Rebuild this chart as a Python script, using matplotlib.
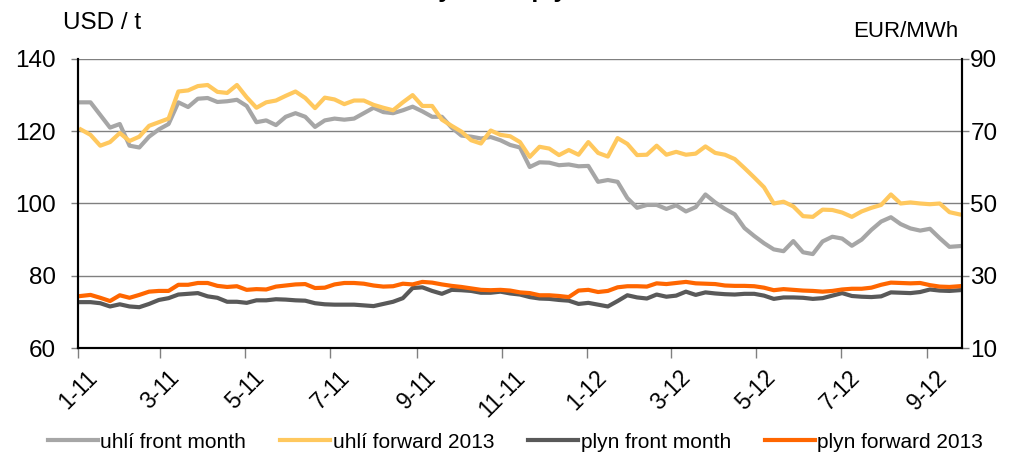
import matplotlib
matplotlib.use('Agg')
import matplotlib.pyplot as plt
import matplotlib.dates as mdates
from matplotlib.ticker import FuncFormatter
import pandas as pd

plt.rcParams['font.family'] = ['Liberation Sans', 'DejaVu Sans']

# weekly observations, Jan 2011 - Sep 2012
dates = pd.date_range('2011-01-03', periods=91, freq='7D')

# coal, USD/t (left axis)
uhli_front = [128, 128, 124.5, 121, 122, 116, 115.5, 118.5, 120.5, 122,
              128, 126.7, 129, 129.2, 128.1, 128.3, 128.7, 127, 122.5, 123,
              121.7, 124, 125, 124, 121.2, 123, 123.5, 123.2, 123.5, 125,
              126.5, 125.3, 125, 125.8, 126.8, 125.5, 124, 124, 121, 118.8,
              118.5, 118, 118.4, 117.5, 116.2, 115.5, 110.1, 111.4, 111.3, 110.6,
              110.8, 110.3, 110.4, 106, 106.5, 106, 101.5, 98.8, 99.6, 99.6,
              98.5, 99.5, 97.8, 99, 102.5, 100.3, 98.5, 97, 93.2, 91,
              89, 87.3, 86.8, 89.6, 86.5, 86, 89.5, 90.8, 90.3, 88.3,
              90, 92.7, 95, 96.2, 94.3, 93.1, 92.5, 93, 90.4, 88,
              88.2]
uhli_fwd = [120.5, 119, 116, 117, 119.5, 117.3, 118.5, 121.5, 122.5, 123.5,
            131, 131.3, 132.5, 132.8, 130.9, 130.6, 132.8, 129.4, 126.5, 128,
            128.5, 129.8, 131, 129.2, 126.4, 129.3, 128.8, 127.5, 128.5, 128.5,
            127.3, 126.5, 125.8, 128, 130, 127, 127, 123.2, 121.5, 119.9,
            117.5, 116.6, 120.2, 119, 118.6, 117, 112.9, 115.7, 115.2, 113.4,
            114.8, 113.5, 117, 114, 113, 118.1, 116.5, 113.4, 113.5, 116,
            113.5, 114.3, 113.5, 113.8, 115.8, 114, 113.5, 112.3, 109.8, 107.2,
            104.5, 100, 100.5, 99.2, 96.5, 96.3, 98.3, 98.2, 97.5, 96.3,
            97.8, 98.8, 99.6, 102.5, 100, 100.3, 100, 99.8, 100, 97.6,
            97]

# gas, EUR/MWh (right axis)
plyn_front = [22.7, 22.7, 22.4, 21.5, 22.1, 21.5, 21.3, 22.2, 23.3, 23.8,
              24.8, 25.0, 25.2, 24.3, 23.9, 22.8, 22.8, 22.5, 23.2, 23.2,
              23.5, 23.4, 23.2, 23.1, 22.4, 22.1, 22.0, 22.0, 22.0, 21.8,
              21.6, 22.2, 22.8, 23.8, 26.6, 26.8, 25.8, 25.0, 26.1, 26.0,
              25.8, 25.3, 25.3, 25.6, 25.1, 24.8, 24.1, 23.7, 23.6, 23.3,
              23.1, 22.2, 22.5, 22.0, 21.5, 23.0, 24.6, 24.0, 23.7, 24.8,
              24.2, 24.5, 25.6, 24.7, 25.4, 25.1, 24.9, 24.8, 25.0, 25.0,
              24.5, 23.6, 24.0, 24.0, 23.9, 23.6, 23.8, 24.5, 25.2, 24.4,
              24.2, 24.1, 24.3, 25.4, 25.3, 25.2, 25.5, 26.2, 25.9, 25.8,
              26.0]
plyn_fwd = [24.4, 24.7, 23.9, 23.0, 24.6, 23.9, 24.7, 25.6, 25.8, 25.8,
            27.5, 27.5, 28.0, 28.0, 27.2, 26.9, 27.1, 26.1, 26.3, 26.2,
            27.0, 27.3, 27.6, 27.7, 26.6, 26.7, 27.6, 28.0, 28.0, 27.8,
            27.3, 27.0, 27.1, 27.8, 27.6, 28.3, 28.1, 27.6, 27.2, 26.9,
            26.5, 26.1, 26.0, 26.1, 25.9, 25.4, 25.2, 24.6, 24.6, 24.4,
            24.1, 25.9, 26.1, 25.5, 25.8, 26.8, 27.1, 27.1, 27.0, 27.9,
            27.7, 28.0, 28.3, 27.9, 27.8, 27.7, 27.3, 27.2, 27.2, 27.1,
            26.7, 26.0, 26.3, 26.1, 25.9, 25.8, 25.6, 25.8, 26.2, 26.4,
            26.4, 26.7, 27.5, 28.1, 28.0, 27.9, 28.0, 27.4, 27.0, 26.9,
            27.1]

labels = ['uhlí front month', 'uhlí forward 2013', 'plyn front month', 'plyn forward 2013']
colors = ['#a6a6a6', '#ffc85e', '#595959', '#ff6600']

fig = plt.figure(figsize=(10.15, 4.59), dpi=100)
ax = fig.add_axes([0.0768, 0.2418, 0.8710, 0.6297])
ax2 = ax.twinx()

l1, = ax.plot(dates, uhli_front, color=colors[0], lw=3, label=labels[0])
l2, = ax.plot(dates, uhli_fwd, color=colors[1], lw=3, label=labels[1])
l3, = ax2.plot(dates, plyn_front, color=colors[2], lw=3, label=labels[2])
l4, = ax2.plot(dates, plyn_fwd, color=colors[3], lw=3, label=labels[3])

ax.set_ylim(60, 140)
ax.set_yticks([60, 80, 100, 120, 140])
ax2.set_ylim(10, 90)
ax2.set_yticks([10, 30, 50, 70, 90])
ax.set_xlim(pd.Timestamp('2011-01-01'), pd.Timestamp('2012-09-26'))

ax.grid(axis='y', color='#808080', lw=1)
ax.set_axisbelow(True)
ax.xaxis.set_major_locator(mdates.MonthLocator(bymonth=[1, 3, 5, 7, 9, 11]))
ax.xaxis.set_major_formatter(FuncFormatter(
    lambda v, p: '%d-%02d' % (mdates.num2date(v).month, mdates.num2date(v).year % 100)))

for a in (ax, ax2):
    a.spines['top'].set_visible(False)
    a.spines['left'].set_linewidth(1.5)
    a.spines['right'].set_linewidth(1.5)
    a.spines['bottom'].set_linewidth(1.5)
    a.tick_params(labelsize=17.5, length=5, color='#808080', width=1)
ax.tick_params(axis='y', pad=11)
ax2.tick_params(axis='y', pad=1)
ax.tick_params(axis='x', labelsize=16.5, pad=6, length=7)
for t in ax.get_xticklabels():
    t.set_rotation(45)
    t.set_ha('center')

fig.text(0.062, 0.925, 'USD / t', fontsize=17.5, ha='left', va='bottom')
fig.text(0.944, 0.908, 'EUR/MWh', fontsize=16, ha='right', va='bottom')
fig.text(0.385, 1.006, 'Ceny uhlí a plynu', fontsize=18, fontweight='bold',
         ha='left', va='baseline')

fig.legend(handles=[l1, l2, l3, l4], loc='lower center', bbox_to_anchor=(0.508, -0.025),
           ncol=4, frameon=False, fontsize=15, handlelength=2.4, handletextpad=0.1,
           columnspacing=1.65)

fig.savefig('out.png', dpi=100)
